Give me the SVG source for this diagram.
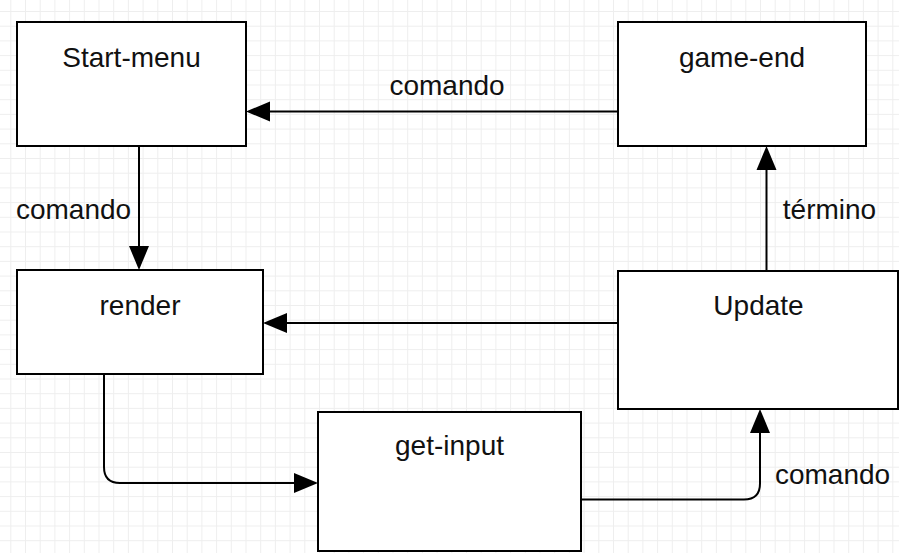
<svg xmlns="http://www.w3.org/2000/svg" width="899" height="553" viewBox="0 0 899 553">
  <defs>
    <pattern id="grid" patternUnits="userSpaceOnUse" x="10.3" y="11" width="14.7" height="14.7">
      <path d="M0,0.5 H14.7 M0.5,0 V14.7" fill="none" stroke="#eeeeee" stroke-width="1"/>
    </pattern>
    <marker id="arrow" markerUnits="userSpaceOnUse" markerWidth="26" markerHeight="22" refX="0" refY="10" orient="auto" overflow="visible">
      <path d="M0,0 L24,10 L0,20 Z" fill="#000"/>
    </marker>
    <style>
      .box { fill: #fff; stroke: #000; stroke-width: 2; }
      .label { font-family: "Liberation Sans", Arial, sans-serif; font-size: 28px; fill: #111; text-anchor: middle; }
      .edge { fill: none; stroke: #000; stroke-width: 2; marker-end: url(#arrow); }
    </style>
  </defs>
  <rect x="0" y="0" width="899" height="553" fill="#fff"/>
  <rect x="0" y="0" width="899" height="553" fill="url(#grid)"/>

  <g id="connectors">
    <path class="edge" d="M618,111.5 H270"/>
    <path class="edge" d="M139,146 V246"/>
    <path class="edge" d="M618,323 H287"/>
    <path class="edge" d="M766.5,271 V170"/>
    <path class="edge" d="M104,374 V467 Q104,483 120,483 H294"/>
    <path class="edge" d="M581,499.5 H744 Q760,499.5 760,483.5 V433"/>
    <text class="label" x="447" y="95">comando</text>
    <text class="label" x="73.5" y="219">comando</text>
    <text class="label" x="829.5" y="219">término</text>
    <text class="label" x="832.5" y="484">comando</text>
  </g>

  <g id="start-menu">
    <rect class="box" x="17" y="22" width="229" height="124"/>
    <text class="label" x="131.5" y="66.5">Start-menu</text>
  </g>
  <g id="game-end">
    <rect class="box" x="618" y="22" width="248" height="124"/>
    <text class="label" x="742" y="66.5">game-end</text>
  </g>
  <g id="render">
    <rect class="box" x="17" y="270" width="246" height="104"/>
    <text class="label" x="140" y="314.5">render</text>
  </g>
  <g id="update">
    <rect class="box" x="618" y="271" width="280" height="138"/>
    <text class="label" x="758.5" y="314.5">Update</text>
  </g>
  <g id="get-input">
    <rect class="box" x="318" y="412" width="263" height="139"/>
    <text class="label" x="449.5" y="455">get-input</text>
  </g>
</svg>
